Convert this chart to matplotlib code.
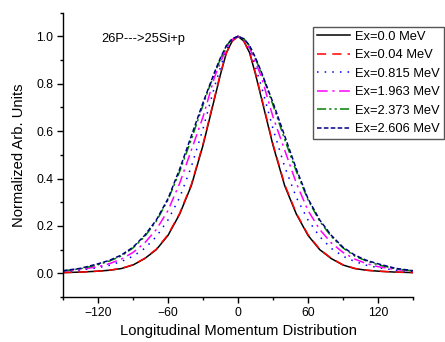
import numpy as np
import matplotlib
matplotlib.use("Agg")
import matplotlib.pyplot as plt
from matplotlib.ticker import MultipleLocator

plt.rcParams['font.family'] = ['Liberation Sans', 'DejaVu Sans']

# momentum grid (MeV/c)
p = [-150, -135, -120, -110, -100, -90, -80, -70, -60, -50, -40, -30, -25, -20, -15, -10, -5,
     0, 5, 10, 15, 20, 25, 30, 40, 50, 60, 70, 80, 90, 100, 110, 120, 135, 150]

ex_00 = [0.003, 0.005, 0.009, 0.013, 0.020, 0.035, 0.062, 0.100, 0.160, 0.250, 0.370, 0.540, 0.640, 0.740, 0.840, 0.930, 0.980,
         1.000, 0.980, 0.930, 0.840, 0.740, 0.640, 0.540, 0.370, 0.250, 0.160, 0.100, 0.062, 0.035, 0.020, 0.013, 0.009, 0.005, 0.003]
ex_004 = [0.003, 0.005, 0.009, 0.013, 0.021, 0.036, 0.063, 0.102, 0.163, 0.253, 0.375, 0.545, 0.645, 0.745, 0.845, 0.930, 0.980,
          1.000, 0.980, 0.930, 0.845, 0.745, 0.645, 0.545, 0.375, 0.253, 0.163, 0.102, 0.063, 0.036, 0.021, 0.013, 0.009, 0.005, 0.003]
ex_0815 = [0.008, 0.013, 0.024, 0.034, 0.050, 0.072, 0.105, 0.155, 0.225, 0.320, 0.450, 0.610, 0.700, 0.790, 0.870, 0.945, 0.985,
           1.000, 0.985, 0.945, 0.870, 0.790, 0.700, 0.610, 0.450, 0.320, 0.225, 0.155, 0.105, 0.072, 0.050, 0.034, 0.024, 0.013, 0.008]
ex_1963 = [0.009, 0.016, 0.028, 0.041, 0.060, 0.088, 0.128, 0.185, 0.265, 0.380, 0.520, 0.660, 0.745, 0.830, 0.890, 0.950, 0.987,
           1.000, 0.987, 0.950, 0.890, 0.830, 0.745, 0.660, 0.520, 0.380, 0.265, 0.185, 0.128, 0.088, 0.060, 0.041, 0.028, 0.016, 0.009]
ex_2373 = [0.010, 0.019, 0.036, 0.052, 0.073, 0.107, 0.155, 0.220, 0.310, 0.430, 0.565, 0.710, 0.780, 0.845, 0.905, 0.960, 0.990,
           1.000, 0.990, 0.960, 0.905, 0.845, 0.780, 0.710, 0.565, 0.430, 0.310, 0.220, 0.155, 0.107, 0.073, 0.052, 0.036, 0.019, 0.010]
ex_2606 = [0.011, 0.021, 0.040, 0.055, 0.077, 0.110, 0.160, 0.225, 0.315, 0.440, 0.580, 0.720, 0.785, 0.850, 0.910, 0.960, 0.990,
           1.000, 0.990, 0.960, 0.910, 0.850, 0.785, 0.720, 0.580, 0.440, 0.315, 0.225, 0.160, 0.110, 0.077, 0.055, 0.040, 0.021, 0.011]

labels = ['Ex=0.0 MeV', 'Ex=0.04 MeV', 'Ex=0.815 MeV', 'Ex=1.963 MeV', 'Ex=2.373 MeV', 'Ex=2.606 MeV']
series = [ex_00, ex_004, ex_0815, ex_1963, ex_2373, ex_2606]
colors = ['black', 'red', 'blue', 'magenta', 'green', 'navy']
styles = ['-', (0, (6, 4)), (0, (1, 4)), (0, (7, 3, 1.5, 3)), (0, (6, 2, 1.5, 2, 1.5, 2)), (0, (3, 1.5))]

fig = plt.figure(figsize=(4.45, 3.42), dpi=100)
ax = fig.add_axes([0.1416, 0.1316, 0.7865, 0.8314])

for y, lab, c, ls in zip(series, labels, colors, styles):
    ax.plot(p, y, color=c, linestyle=ls, linewidth=1.1, label=lab)

ax.set_xlim(-150, 150)
ax.set_ylim(-0.1, 1.1)
ax.xaxis.set_major_locator(MultipleLocator(60))
ax.xaxis.set_minor_locator(MultipleLocator(30))
ax.yaxis.set_major_locator(MultipleLocator(0.2))
ax.yaxis.set_minor_locator(MultipleLocator(0.1))
ax.set_xticks([-120, -60, 0, 60, 120])
ax.set_yticks([0.0, 0.2, 0.4, 0.6, 0.8, 1.0])
ax.set_yticklabels(['0.0', '0.2', '0.4', '0.6', '0.8', '1.0'])
ax.tick_params(which='major', direction='out', length=4, width=1, labelsize=8.7, pad=3)
ax.tick_params(which='minor', direction='out', length=2.5, width=1)
for s in ['top', 'right']:
    ax.spines[s].set_visible(False)
for s in ['left', 'bottom']:
    ax.spines[s].set_linewidth(1.0)

ax.set_xlabel('Longitudinal Momentum Distribution', fontsize=10.6, labelpad=4)
ax.set_ylabel('Normalized Arb. Units', fontsize=10.6, labelpad=7)

ax.text(-117, 0.99, '26P--->25Si+p', fontsize=9.3, va='center', ha='left')

leg = fig.legend(loc='upper right', bbox_to_anchor=(0.998, 0.922), fontsize=9.3,
                 frameon=True, fancybox=False, edgecolor='#555555', framealpha=1,
                 handlelength=2.6, handletextpad=0.4, labelspacing=0.5,
                 borderpad=0.3, borderaxespad=0.0)
leg.get_frame().set_linewidth(1.0)

fig.savefig('out.png', dpi=100)
